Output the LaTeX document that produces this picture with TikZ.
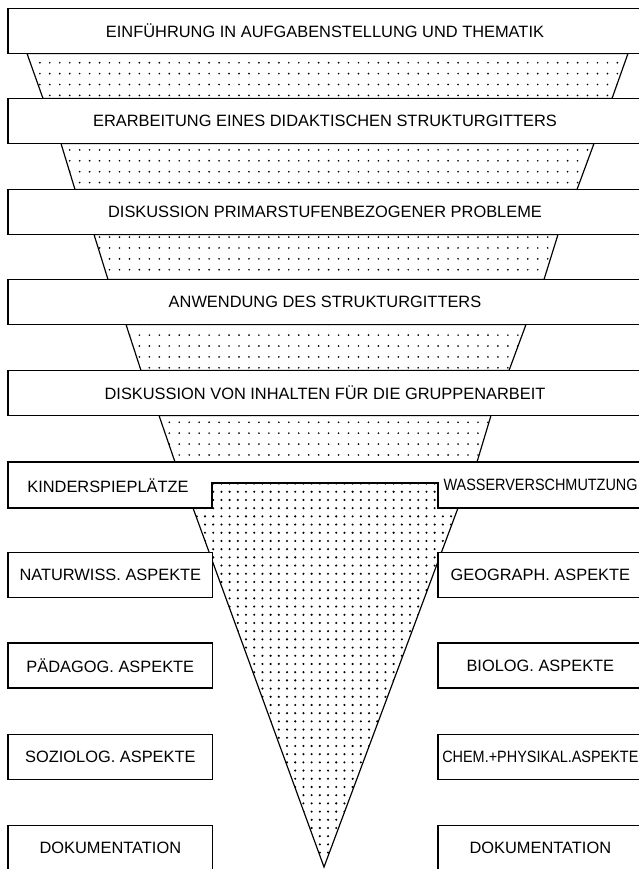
\documentclass[tikz,border=0pt]{standalone}
\usepackage{fontspec}
\setmainfont{Liberation Sans}
\newfontfamily\narrowsans[FakeStretch=0.88]{Liberation Sans}
\usepackage{tikz}
\usetikzlibrary{patterns}

% dot screens for the funnel
\pgfdeclarepatternformonly{sparsedots}{\pgfqpoint{-1pt}{-1pt}}{\pgfqpoint{1pt}{1pt}}{\pgfqpoint{8.5pt}{9.3pt}}{%
  \pgfpathcircle{\pgfqpoint{0pt}{0pt}}{0.8pt}\pgfusepath{fill}}
\pgfdeclarepatternformonly{densedots}{\pgfqpoint{-1.2pt}{-1.2pt}}{\pgfqpoint{1.2pt}{1.2pt}}{\pgfqpoint{7pt}{7pt}}{%
  \pgfpathcircle{\pgfqpoint{0pt}{0pt}}{1pt}\pgfusepath{fill}}

\begin{document}
\begin{tikzpicture}[
    stage/.style={
      rectangle, draw, fill=white, line width=1pt,
      minimum width=19.02cm, minimum height=1.35cm, inner sep=0pt,
      font=\fontsize{14}{16}\selectfont
    },
    aspect/.style={
      rectangle, draw, fill=white, line width=1pt,
      minimum width=6.14cm, minimum height=1.35cm, inner sep=0pt,
      font=\fontsize{14}{16}\selectfont
    },
    lettering/.style={inner sep=0pt, font=\fontsize{14}{16}\selectfont},
    narrow/.style={font=\narrowsans\fontsize{14}{16}\selectfont},
    funnel/.style={pattern=sparsedots, draw, line width=1pt},
    spout/.style={pattern=densedots}
  ]
    \useasboundingbox (0,0) rectangle (19.17,-26.07);
    \clip (0,0) rectangle (19.17,-26.07);

    % funnel between the stages
    \path[funnel] (0.81,-1.605) -- (18.84,-1.605) -- (18.36,-2.955) -- (1.29,-2.955) -- cycle;
    \path[funnel] (1.83,-4.305) -- (17.82,-4.305) -- (17.31,-5.685) -- (2.25,-5.685) -- cycle;
    \path[funnel] (2.82,-7.035) -- (16.74,-7.035) -- (16.32,-8.385) -- (3.24,-8.385) -- cycle;
    \path[funnel] (3.78,-9.735) -- (15.78,-9.735) -- (15.27,-11.115) -- (4.23,-11.115) -- cycle;
    \path[funnel] (4.77,-12.465) -- (14.73,-12.465) -- (14.31,-13.86) -- (5.25,-13.86) -- cycle;

    % spout
    \fill[spout] (5.79,-15.24) -- (6.36,-15.24) -- (6.36,-14.49) -- (13.14,-14.49)
      -- (13.14,-15.24) -- (13.74,-15.24) -- (9.72,-26.01) -- cycle;
    \draw[line width=1pt] (5.79,-15.24) -- (9.72,-26.01) -- (13.74,-15.24);

    \node[stage] (intro)  at (9.75,-0.93)  {EINFÜHRUNG IN AUFGABENSTELLUNG UND THEMATIK};
    \node[stage] (grid)   at (9.75,-3.63)  {ERARBEITUNG EINES DIDAKTISCHEN STRUKTURGITTERS};
    \node[stage] (prim)   at (9.75,-6.36)  {DISKUSSION PRIMARSTUFENBEZOGENER PROBLEME};
    \node[stage] (apply)  at (9.75,-9.06)  {ANWENDUNG DES STRUKTURGITTERS};
    \node[stage] (groups) at (9.75,-11.79) {DISKUSSION VON INHALTEN FÜR DIE GRUPPENARBEIT};

    % the two themes
    \draw[line width=1pt] (0.24,-13.86) -- (19.26,-13.86) -- (19.26,-15.24) -- (13.14,-15.24)
      -- (13.14,-14.49) -- (6.36,-14.49) -- (6.36,-15.24) -- (0.24,-15.24) -- cycle;
    \node[lettering] (kinder) at (3.24,-14.58) {KINDERSPIEPLÄTZE};
    \node[lettering, narrow, anchor=west] (wasser) at (13.3,-14.55) {WASSERVERSCHMUTZUNG};

    \node[aspect] (natur) at (3.31,-17.25)  {NATURWISS. ASPEKTE};
    \node[aspect] (paed)  at (3.31,-19.965) {PÄDAGOG. ASPEKTE};
    \node[aspect] (sozio) at (3.31,-22.71)  {SOZIOLOG. ASPEKTE};
    \node[aspect] (dokl)  at (3.31,-25.44)  {DOKUMENTATION};
    \node[aspect] (geo)   at (16.21,-17.25)  {GEOGRAPH. ASPEKTE};
    \node[aspect] (bio)   at (16.21,-19.965) {BIOLOG. ASPEKTE};
    \node[aspect, narrow] (chem) at (16.21,-22.71) {CHEM.+PHYSIKAL.ASPEKTE};
    \node[aspect] (dokr)  at (16.21,-25.44)  {DOKUMENTATION};
  \end{tikzpicture}
\end{document}
